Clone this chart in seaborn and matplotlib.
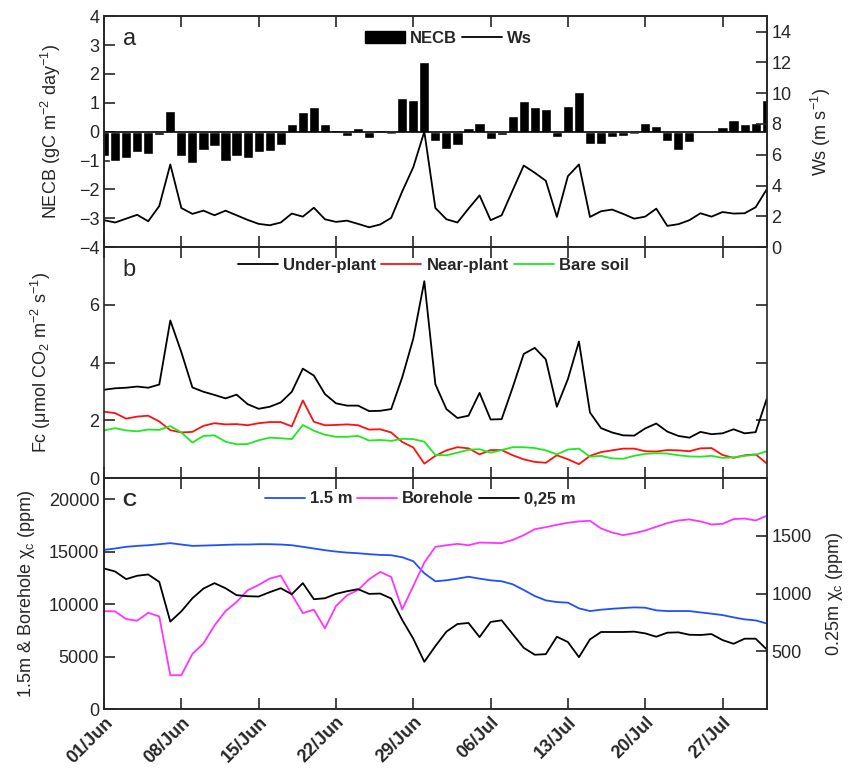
import numpy as np
import pandas as pd
import matplotlib
matplotlib.use("Agg")
import matplotlib.pyplot as plt
import seaborn as sns
from matplotlib.patches import Patch
from matplotlib.lines import Line2D

# days since 01/Jun (01 Jun .. 31 Jul)
days = np.arange(61)
tick_days = [0, 7, 14, 21, 28, 35, 42, 49, 56]
tick_labels = ["01/Jun", "08/Jun", "15/Jun", "22/Jun", "29/Jun",
               "06/Jul", "13/Jul", "20/Jul", "27/Jul"]

# panel a
necb = [-0.83, -1.0, -0.92, -0.72, -0.77, -0.12, 0.72, -0.83, -1.08, -0.62,
        -0.48, -1.01, -0.83, -0.9, -0.69, -0.68, -0.45, 0.25, 0.69, 0.87,
        0.28, 0.06, -0.14, 0.12, -0.21, 0.07, -0.07, 1.18, 1.10, 2.41,
        -0.33, -0.6, -0.45, 0.11, 0.29, -0.25, -0.11, 0.53, 1.05, 0.86,
        0.77, -0.17, 0.9, 1.39, -0.43, -0.43, -0.17, -0.14, -0.09, 0.29,
        0.18, -0.32, -0.63, -0.37, -0.02, -0.03, 0.16, 0.41, 0.25, 0.29, 1.10]
ws = [1.75, 1.6, 1.85, 2.1, 1.68, 2.67, 5.37, 2.54, 2.16, 2.37,
      2.07, 2.37, 2.07, 1.77, 1.51, 1.42, 1.6, 2.18, 1.98, 2.56,
      1.81, 1.64, 1.72, 1.51, 1.29, 1.47, 1.9, 3.62, 5.19, 7.5,
      2.54, 1.81, 1.6, 2.5, 3.36, 1.75, 2.07, 3.69, 5.3, 4.83,
      4.31, 1.96, 4.61, 5.37, 1.96, 2.33, 2.44, 2.16, 1.85, 1.98,
      2.5, 1.38, 1.49, 1.75, 2.2, 1.98, 2.28, 2.18, 2.2, 2.59, 3.75]

# panel b
under_plant = [3.06, 3.11, 3.13, 3.17, 3.13, 3.24, 5.46, 4.36, 3.14, 2.99,
               2.88, 2.76, 2.89, 2.56, 2.4, 2.47, 2.62, 2.99, 3.79, 3.55,
               2.91, 2.59, 2.51, 2.51, 2.32, 2.33, 2.39, 3.49, 4.83, 6.82,
               3.25, 2.39, 2.08, 2.16, 2.95, 2.03, 2.04, 3.14, 4.3, 4.51,
               4.11, 2.47, 3.43, 4.73, 2.27, 1.73, 1.58, 1.48, 1.47, 1.72,
               1.89, 1.61, 1.46, 1.4, 1.6, 1.52, 1.55, 1.69, 1.55, 1.59, 2.74]
near_plant = [2.3, 2.25, 2.06, 2.13, 2.16, 1.96, 1.66, 1.58, 1.6, 1.81,
              1.9, 1.86, 1.87, 1.83, 1.9, 1.94, 1.94, 1.79, 2.69, 1.95,
              1.83, 1.84, 1.86, 1.83, 1.68, 1.69, 1.58, 1.25, 1.06, 0.5,
              0.77, 0.96, 1.07, 1.03, 0.82, 0.97, 0.97, 0.79, 0.65, 0.56,
              0.53, 0.79, 0.65, 0.48, 0.77, 0.9, 0.96, 1.02, 1.02, 0.93,
              0.92, 0.97, 0.96, 0.93, 1.03, 1.04, 0.8, 0.7, 0.79, 0.82, 0.51]
bare_soil = [1.65, 1.73, 1.65, 1.62, 1.68, 1.67, 1.8, 1.58, 1.23, 1.46,
             1.48, 1.26, 1.17, 1.18, 1.31, 1.4, 1.38, 1.35, 1.84, 1.64,
             1.5, 1.43, 1.43, 1.46, 1.3, 1.32, 1.29, 1.36, 1.35, 1.26,
             0.8, 0.79, 0.88, 0.98, 1.0, 0.88, 0.97, 1.07, 1.07, 1.04,
             0.96, 0.82, 0.99, 1.02, 0.74, 0.77, 0.68, 0.67, 0.77, 0.84,
             0.86, 0.85, 0.79, 0.75, 0.74, 0.77, 0.7, 0.72, 0.77, 0.81, 0.93]

# panel c
chi_15m = [15160, 15290, 15450, 15540, 15600, 15700, 15800, 15670, 15540, 15570,
           15600, 15640, 15670, 15670, 15700, 15700, 15670, 15600, 15450, 15290,
           15130, 15000, 14900, 14840, 14750, 14680, 14650, 14460, 14080, 12930,
           12170, 12260, 12420, 12600, 12420, 12260, 12170, 11880, 11340, 10760,
           10350, 10190, 10130, 9590, 9330, 9460, 9550, 9620, 9680, 9650,
           9400, 9330, 9330, 9330, 9200, 9080, 8950, 8730, 8540, 8440, 8150]
chi_borehole = [9330, 9300, 8570, 8410, 9170, 8820, 3220, 3220, 5250, 6240,
                7960, 9330, 10190, 11310, 11820, 12420, 12710, 10900, 9140, 9460,
                7680, 9810, 10830, 11340, 12360, 13060, 12580, 9490, 11720, 13950,
                15450, 15600, 15730, 15600, 15860, 15830, 15800, 16110, 16560, 17130,
                17320, 17550, 17740, 17870, 17930, 17200, 16820, 16560, 16750, 17000,
                17360, 17710, 17960, 18060, 17870, 17580, 17640, 18090, 18150, 17960, 18410]
chi_025m = [1217, 1191, 1125, 1154, 1165, 1101, 757, 846, 959, 1043,
            1090, 1046, 986, 977, 974, 1012, 1046, 994, 1090, 951,
            959, 997, 1020, 1038, 997, 1000, 957, 771, 609, 409,
            545, 670, 736, 745, 623, 754, 768, 649, 530, 470,
            475, 626, 580, 449, 603, 667, 667, 667, 670, 655,
            626, 661, 664, 643, 641, 649, 597, 565, 609, 609, 516]

df = pd.DataFrame({"day": days, "NECB": necb, "Ws": ws,
                   "Under-plant": under_plant, "Near-plant": near_plant,
                   "Bare soil": bare_soil, "1.5 m": chi_15m,
                   "Borehole": chi_borehole, "0,25 m": chi_025m})

sns.set_style("ticks")
plt.rcParams["font.family"] = ["Liberation Sans", "DejaVu Sans"]
plt.rcParams["mathtext.fontset"] = "custom"
plt.rcParams["mathtext.rm"] = "Liberation Sans"
plt.rcParams["mathtext.it"] = "Liberation Sans:italic"
plt.rcParams["mathtext.bf"] = "Liberation Sans:bold"
plt.rcParams["axes.linewidth"] = 1.2

fig, (ax1, ax2, ax3) = plt.subplots(3, 1, figsize=(8.5, 7.71), dpi=100, sharex=True)
fig.subplots_adjust(left=0.1224, right=0.902, top=0.979, bottom=0.0804, hspace=0)

lw = 1.3
tick_kw = dict(direction="in", length=8, width=1.2, labelsize=13)
leg_kw = dict(frameon=False, ncol=3, prop={"weight": "bold", "size": 12},
              handlelength=2.4, handletextpad=0.3, columnspacing=0.3,
              borderaxespad=0.2)

# ---- panel a
sns.barplot(data=df, x="day", y="NECB", native_scale=True, color="black",
            width=0.92, errorbar=None, ax=ax1, saturation=1)
ax1.axhline(0, color="black", lw=1.2)
ax1.set_ylim(-4, 4)
ax1.set_yticks(range(-4, 5))
ax1.set_ylabel("NECB (gC m$^{-2}$ day$^{-1}$)", fontsize=13)
ax1.yaxis.set_label_coords(-0.062, 0.5)
ax1b = ax1.twinx()
sns.lineplot(data=df, x="day", y="Ws", color="black", lw=lw, ax=ax1b)
ax1b.set_ylim(0, 15)
ax1b.set_yticks(range(0, 15, 2))
ax1b.set_ylabel("Ws (m s$^{-1}$)", fontsize=13)
ax1b.yaxis.set_label_coords(1.064, 0.5)
ax1b.tick_params(axis="y", **tick_kw)
ax1.text(0.028, 0.9, "a", transform=ax1.transAxes, fontsize=17, va="center")
ax1.legend(handles=[Patch(facecolor="black", edgecolor="black"),
                    Line2D([], [], color="black", lw=lw)],
           labels=["NECB", "Ws"], loc="center", bbox_to_anchor=(0.52, 0.905),
           **{**leg_kw, "ncol": 2})

# ---- panel b
for col, c in [("Under-plant", "black"), ("Near-plant", "#ff1010"),
               ("Bare soil", "#1ee81e")]:
    sns.lineplot(data=df, x="day", y=col, color=c, lw=lw, ax=ax2, label=col)
ax2.set_ylim(0, 8)
ax2.set_yticks([0, 2, 4, 6, 8])
ax2.set_yticklabels(["0", "2", "4", "6", ""])
ax2.set_ylabel("Fc (μmol CO$_2$ m$^{-2}$ s$^{-1}$)", fontsize=13)
ax2.yaxis.set_label_coords(-0.077, 0.5)
ax2.text(0.028, 0.9, "b", transform=ax2.transAxes, fontsize=17, va="center")
ax2.legend(loc="center", bbox_to_anchor=(0.497, 0.92), **leg_kw)

# ---- panel c
sns.lineplot(data=df, x="day", y="1.5 m", color="#1f4fff", lw=lw, ax=ax3)
sns.lineplot(data=df, x="day", y="Borehole", color="#ff33ff", lw=lw, ax=ax3)
ax3.set_ylim(0, 22000)
ax3.set_yticks(range(0, 20001, 5000))
ax3.set_ylabel("1.5m & Borehole χ$_\\mathrm{c}$ (ppm)", fontsize=13)
ax3.yaxis.set_label_coords(-0.101, 0.5)
ax3b = ax3.twinx()
sns.lineplot(data=df, x="day", y="0,25 m", color="black", lw=lw, ax=ax3b)
ax3b.set_ylim(0, 2000)
ax3b.set_yticks([500, 1000, 1500])
ax3b.set_ylabel("0.25m χ$_\\mathrm{c}$ (ppm)", fontsize=13)
ax3b.yaxis.set_label_coords(1.086, 0.5)
ax3b.tick_params(axis="y", **tick_kw)
ax3.text(0.028, 0.9, "C", transform=ax3.transAxes, fontsize=14,
         fontweight="bold", va="center")
ax3.legend(handles=[Line2D([], [], color="#1f4fff", lw=lw),
                    Line2D([], [], color="#ff33ff", lw=lw),
                    Line2D([], [], color="black", lw=lw)],
           labels=["1.5 m", "Borehole", "0,25 m"], loc="center",
           bbox_to_anchor=(0.477, 0.91), **leg_kw)

for ax in (ax1, ax2, ax3):
    ax.tick_params(axis="both", top=True, bottom=True, **tick_kw)
    ax.set_xlabel("")
ax2.tick_params(axis="y", right=True)

ax3.set_xlim(0, 60)
ax3.set_xticks(tick_days)
ax3.set_xticklabels(tick_labels, rotation=45, ha="right", va="top",
                    rotation_mode="anchor", fontweight="bold", fontsize=13)

fig.savefig("out.png", dpi=100)
